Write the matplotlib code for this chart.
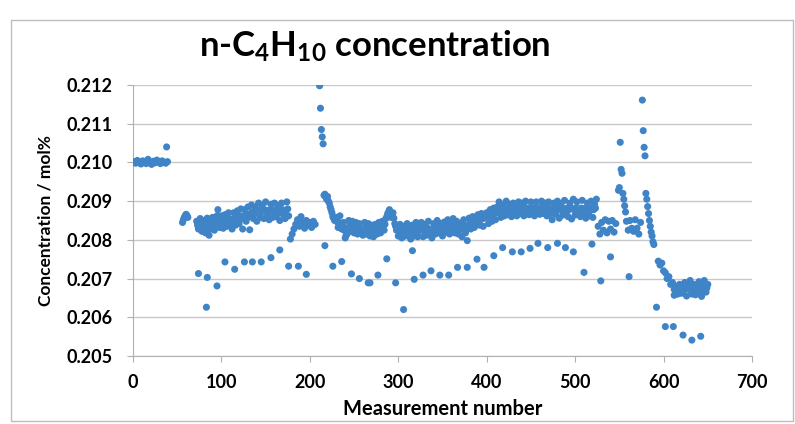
import numpy as np
import matplotlib.pyplot as plt
from matplotlib.patches import Rectangle

x_a = np.arange(1, 41, 2)
y_a = [0.21002, 0.20998, 0.21005, 0.21000, 0.20996, 0.21004, 0.21001, 0.20997, 0.21008, 0.21000,
       0.20995, 0.21003, 0.20999, 0.21006, 0.21001, 0.20997, 0.21004, 0.21000, 0.20998, 0.21002]

x_b = np.arange(56, 63)
y_b = [0.20845, 0.20852, 0.20858, 0.20862, 0.20866, 0.20863, 0.20858]

x_c = np.arange(72, 177, 2)
y_c = [0.20848, 0.20828, 0.20855, 0.20822, 0.20850, 0.20818, 0.20856, 0.20812, 0.20845, 0.20858,
       0.20825, 0.20855, 0.20878, 0.20832, 0.20862, 0.20830, 0.20865, 0.20835, 0.20870, 0.20840,
       0.20828, 0.20870, 0.20838, 0.20875, 0.20842, 0.20880, 0.20828, 0.20878, 0.20848, 0.20885,
       0.20826, 0.20890, 0.20855, 0.20885, 0.20848, 0.20895, 0.20858, 0.20890, 0.20855, 0.20898,
       0.20860, 0.20852, 0.20892, 0.20858, 0.20895, 0.20860, 0.20888, 0.20850, 0.20895, 0.20865,
       0.20855, 0.20898, 0.20862]
x_c2 = np.arange(73, 176, 2)
y_c2 = [0.20838, 0.20840, 0.20835, 0.20836, 0.20832, 0.20840, 0.20834, 0.20828, 0.20842, 0.20845,
        0.20840, 0.20862, 0.20848, 0.20846, 0.20850, 0.20847, 0.20852, 0.20850, 0.20855, 0.20845,
        0.20852, 0.20856, 0.20858, 0.20855, 0.20862, 0.20855, 0.20860, 0.20864, 0.20866, 0.20860,
        0.20868, 0.20872, 0.20866, 0.20870, 0.20874, 0.20876, 0.20872, 0.20875, 0.20878, 0.20872,
        0.20876, 0.20874, 0.20878, 0.20872, 0.20876, 0.20874, 0.20870, 0.20876, 0.20878, 0.20874,
        0.20876, 0.20880]

x_d = np.arange(178, 207, 2)
y_d = [0.20802, 0.20815, 0.20828, 0.20840, 0.20852, 0.20835, 0.20860, 0.20845, 0.20830, 0.20850,
       0.20838, 0.20845, 0.20832, 0.20848, 0.20840]

x_e = np.arange(216, 229)
y_e = [0.20915, 0.20918, 0.20910, 0.20905, 0.20912, 0.20900, 0.20895, 0.20885, 0.20878, 0.20870,
       0.20860, 0.20855, 0.20850]

x_f = np.arange(230, 399, 2)
y_f = [0.20858, 0.20832, 0.20862, 0.20828, 0.20845, 0.20805, 0.20815, 0.20850, 0.20822, 0.20848,
       0.20818, 0.20845, 0.20815, 0.20842, 0.20820, 0.20812, 0.20845, 0.20815, 0.20842, 0.20810,
       0.20838, 0.20808, 0.20840, 0.20815, 0.20845, 0.20818, 0.20848, 0.20825, 0.20855, 0.20868,
       0.20878, 0.20858, 0.20870, 0.20842, 0.20825, 0.20810, 0.20840, 0.20805, 0.20835, 0.20810,
       0.20842, 0.20815, 0.20802, 0.20838, 0.20810, 0.20845, 0.20808, 0.20835, 0.20845, 0.20808,
       0.20840, 0.20812, 0.20848, 0.20815, 0.20805, 0.20842, 0.20815, 0.20850, 0.20818, 0.20842,
       0.20810, 0.20846, 0.20820, 0.20852, 0.20815, 0.20845, 0.20855, 0.20818, 0.20848, 0.20815,
       0.20842, 0.20808, 0.20852, 0.20818, 0.20798, 0.20856, 0.20828, 0.20860, 0.20832, 0.20845,
       0.20865, 0.20838, 0.20868, 0.20835, 0.20862]
x_f2 = np.arange(231, 398, 2)
y_f2 = [0.20846, 0.20845, 0.20842, 0.20836, 0.20825, 0.20812, 0.20830, 0.20836, 0.20834, 0.20832,
        0.20830, 0.20832, 0.20828, 0.20830, 0.20826, 0.20828, 0.20830, 0.20828, 0.20826, 0.20824,
        0.20822, 0.20825, 0.20826, 0.20830, 0.20832, 0.20834, 0.20836, 0.20840, 0.20860, 0.20872,
        0.20868, 0.20864, 0.20856, 0.20835, 0.20826, 0.20825, 0.20822, 0.20820, 0.20824, 0.20826,
        0.20828, 0.20824, 0.20820, 0.20822, 0.20826, 0.20828, 0.20822, 0.20826, 0.20828, 0.20824,
        0.20826, 0.20830, 0.20828, 0.20826, 0.20824, 0.20828, 0.20832, 0.20834, 0.20830, 0.20826,
        0.20828, 0.20832, 0.20836, 0.20834, 0.20830, 0.20835, 0.20838, 0.20834, 0.20830, 0.20832,
        0.20828, 0.20830, 0.20836, 0.20832, 0.20838, 0.20842, 0.20844, 0.20846, 0.20848, 0.20850,
        0.20852, 0.20852, 0.20855, 0.20856]

x_g = np.arange(400, 525, 2)
y_g = [0.20870, 0.20842, 0.20878, 0.20848, 0.20882, 0.20852, 0.20885, 0.20898, 0.20858, 0.20890,
       0.20862, 0.20900, 0.20865, 0.20892, 0.20860, 0.20895, 0.20866, 0.20862, 0.20898, 0.20868,
       0.20895, 0.20862, 0.20900, 0.20870, 0.20865, 0.20898, 0.20868, 0.20862, 0.20898, 0.20870,
       0.20866, 0.20900, 0.20868, 0.20895, 0.20862, 0.20898, 0.20868, 0.20852, 0.20895, 0.20866,
       0.20900, 0.20856, 0.20892, 0.20864, 0.20902, 0.20868, 0.20860, 0.20895, 0.20854, 0.20905,
       0.20864, 0.20898, 0.20868, 0.20860, 0.20902, 0.20866, 0.20856, 0.20895, 0.20862, 0.20900,
       0.20858, 0.20892, 0.20905]
x_g2 = np.arange(401, 524, 2)
y_g2 = [0.20858, 0.20860, 0.20862, 0.20864, 0.20868, 0.20870, 0.20872, 0.20874, 0.20876, 0.20878,
        0.20880, 0.20878, 0.20882, 0.20880, 0.20878, 0.20882, 0.20880, 0.20884, 0.20878, 0.20882,
        0.20880, 0.20884, 0.20878, 0.20882, 0.20880, 0.20884, 0.20876, 0.20882, 0.20880, 0.20878,
        0.20884, 0.20880, 0.20882, 0.20878, 0.20884, 0.20880, 0.20876, 0.20882, 0.20878, 0.20884,
        0.20880, 0.20878, 0.20882, 0.20880, 0.20876, 0.20882, 0.20878, 0.20884, 0.20880, 0.20878,
        0.20882, 0.20880, 0.20876, 0.20882, 0.20880, 0.20878, 0.20884, 0.20880, 0.20876, 0.20882,
        0.20878, 0.20882]

x_h = np.arange(526, 547, 2)
y_h = [0.20835, 0.20815, 0.20845, 0.20825, 0.20852, 0.20818, 0.20848, 0.20828, 0.20850, 0.20820,
       0.20842]

x_s1 = np.arange(549, 558)
y_s1 = [0.20928, 0.20935, 0.21052, 0.20982, 0.20972, 0.20920, 0.20905, 0.20888, 0.20872]

x_i = np.arange(558, 575, 2)
y_i = [0.20848, 0.20825, 0.20850, 0.20830, 0.20822, 0.20852, 0.20830, 0.20815, 0.20845]

x_s2 = np.arange(576, 590)
y_s2 = [0.21161, 0.21082, 0.21039, 0.21017, 0.20920, 0.20905, 0.20886, 0.20868, 0.20850, 0.20835,
        0.20820, 0.20810, 0.20795, 0.20788]

x_j = np.arange(594, 651, 2)
y_j = [0.20745, 0.20735, 0.20740, 0.20720, 0.20715, 0.20700, 0.20705, 0.20685, 0.20690, 0.20672,
       0.20680, 0.20660, 0.20685, 0.20662, 0.20678, 0.20690, 0.20655, 0.20680, 0.20695, 0.20660,
       0.20685, 0.20658, 0.20680, 0.20692, 0.20660, 0.20682, 0.20695, 0.20665, 0.20685]
x_j2 = np.arange(615, 650, 2)
y_j2 = [0.20672, 0.20668, 0.20672, 0.20675, 0.20670, 0.20674, 0.20678, 0.20672, 0.20676, 0.20670,
        0.20674, 0.20678, 0.20672, 0.20676, 0.20672, 0.20678, 0.20674, 0.20676]

# isolated points (low readings and the spike at ~210)
x_o = [38, 74, 83, 84, 95, 104, 115, 126, 135, 145, 156, 166, 176, 187, 196,
       211, 212, 213, 214, 215, 217, 226, 236, 247, 256, 266, 268, 277, 287, 297,
       306, 316, 318, 328, 337, 347, 357, 367, 378, 389, 397, 408, 418, 429, 439,
       449, 458, 469, 480, 489, 498, 510, 519, 529, 540, 561, 592, 602, 611, 612,
       622, 632, 642, 643]
y_o = [0.21040, 0.20713, 0.20626, 0.20703, 0.20681, 0.20743, 0.20724, 0.20743, 0.20743, 0.20743,
       0.20754, 0.20774, 0.20732, 0.20732, 0.20711,
       0.21198, 0.21140, 0.21085, 0.21066, 0.21048, 0.20785, 0.20732, 0.20744, 0.20712, 0.20700,
       0.20689, 0.20689, 0.20709, 0.20751, 0.20689,
       0.20620, 0.20772, 0.20698, 0.20709, 0.20720, 0.20709, 0.20709, 0.20729, 0.20729, 0.20750,
       0.20729, 0.20759, 0.20780, 0.20769, 0.20769,
       0.20778, 0.20791, 0.20780, 0.20791, 0.20780, 0.20769, 0.20716, 0.20789, 0.20694, 0.20756,
       0.20705, 0.20626, 0.20576, 0.20576, 0.20657,
       0.20554, 0.20541, 0.20551, 0.20654]

xs = np.concatenate([x_a, x_b, x_c, x_c2, x_d, x_e, x_f, x_f2, x_g, x_g2,
                     x_h, x_s1, x_i, x_s2, x_j, x_j2, x_o])
ys = np.concatenate([y_a, y_b, y_c, y_c2, y_d, y_e, y_f, y_f2, y_g, y_g2,
                     y_h, y_s1, y_i, y_s2, y_j, y_j2, y_o])

plt.rcParams['font.family'] = ['Lato', 'DejaVu Sans']
plt.rcParams['mathtext.fontset'] = 'custom'
plt.rcParams['mathtext.bf'] = 'Lato:bold'
plt.rcParams['mathtext.rm'] = 'Lato:bold'
plt.rcParams['mathtext.default'] = 'bf'

fig = plt.figure(figsize=(7.95, 4.24), dpi=100)
ax = fig.add_axes([133 / 795, 1 - 356 / 424, 619 / 795, 271 / 424])

# outer chart frame
fig.patches.append(Rectangle((11 / 795, 3 / 424), 782 / 795, 401 / 424, transform=fig.transFigure,
                             fill=False, edgecolor='#bdbdbd', linewidth=1.0))

ax.scatter(xs, ys, s=26, color='#3f84c6', edgecolors='none', zorder=3)

ax.set_xlim(0, 700)
ax.set_ylim(0.205, 0.212)
ax.set_xticks(np.arange(0, 701, 100))
ax.set_yticks(np.arange(0.205, 0.2121, 0.001))
ax.set_yticklabels([f'{v:.3f}' for v in np.arange(0.205, 0.2121, 0.001)])
ax.yaxis.grid(True, color='#c8c8c8', linewidth=1.0)
ax.set_axisbelow(True)

for side in ['top', 'right']:
    ax.spines[side].set_visible(False)
for side in ['left', 'bottom']:
    ax.spines[side].set_color('#b0b0b0')
ax.tick_params(axis='both', direction='out', length=4, color='#b0b0b0', labelsize=13)
ax.tick_params(axis='x', pad=9)
ax.tick_params(axis='y', pad=11)
for lab in ax.get_xticklabels() + ax.get_yticklabels():
    lab.set_fontweight('bold')

ax.set_xlabel('Measurement number', fontsize=14.5, fontweight='bold', labelpad=6)
ax.set_ylabel('Concentration / mol%', fontsize=12.5, fontweight='bold', labelpad=9)
fig.text(375 / 795, 1 - 46 / 424, r'n-C$_4$H$_{10}$ concentration', fontsize=25,
         fontweight='bold', ha='center', va='center')

fig.savefig('out.png', dpi=100)
